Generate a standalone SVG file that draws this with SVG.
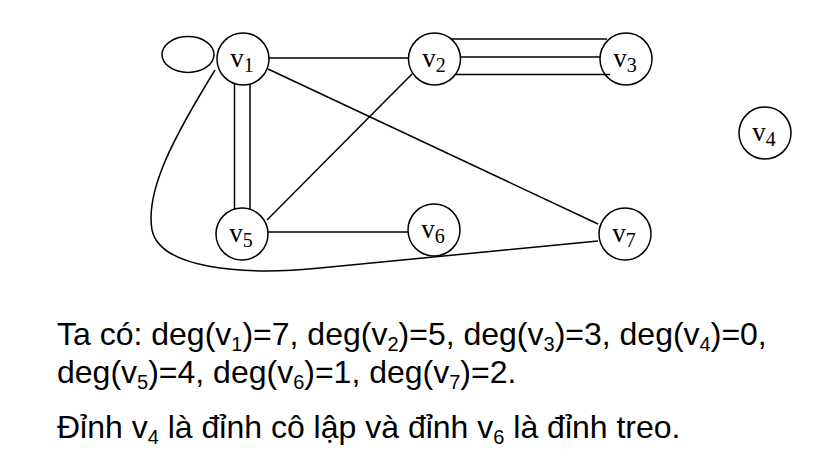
<svg xmlns="http://www.w3.org/2000/svg" width="835" height="471" viewBox="0 0 835 471">
<style>
.edge{fill:none;stroke:#000;stroke-width:1.5}
.node circle{fill:none;stroke:#000;stroke-width:1.5}
.node text{font-family:"Liberation Serif","Times New Roman",serif;font-size:27px;fill:#000;text-anchor:middle}
.sub{font-size:20px}
.body{font-family:"Liberation Sans",Arial,sans-serif;font-size:32px;fill:#000}
.bsub{font-size:20px}
</style>
<rect width="835" height="471" fill="#fff"/>
<g id="connectors">
<ellipse class="edge" cx="188" cy="54.5" rx="26" ry="18"/>
<line class="edge" x1="269" y1="58" x2="408" y2="58"/>
<line class="edge" x1="451" y1="39" x2="607" y2="39"/>
<line class="edge" x1="460" y1="57" x2="600" y2="57"/>
<line class="edge" x1="455" y1="74.5" x2="610" y2="74.5"/>
<line class="edge" x1="234.5" y1="84" x2="234.5" y2="209"/>
<line class="edge" x1="250" y1="84" x2="250" y2="209"/>
<line class="edge" x1="268" y1="69" x2="598" y2="224"/>
<line class="edge" x1="412" y1="74" x2="267" y2="220"/>
<line class="edge" x1="268" y1="232" x2="408" y2="232"/>
<path class="edge" d="M 215 70 C 175 135 145 190 152 230 C 160 268 240 276 320 268 L 598 241"/>
</g>
<g id="v1" class="node"><circle cx="243" cy="59" r="26"/><text x="242" y="67">v<tspan class="sub" dy="5">1</tspan></text></g>
<g id="v2" class="node"><circle cx="434.5" cy="59" r="26"/><text x="434" y="67">v<tspan class="sub" dy="5">2</tspan></text></g>
<g id="v3" class="node"><circle cx="626" cy="59" r="26"/><text x="625" y="67">v<tspan class="sub" dy="5">3</tspan></text></g>
<g id="v4" class="node"><circle cx="765" cy="133" r="26"/><text x="764" y="141">v<tspan class="sub" dy="5">4</tspan></text></g>
<g id="v5" class="node"><circle cx="242" cy="234" r="26"/><text x="241" y="242">v<tspan class="sub" dy="5">5</tspan></text></g>
<g id="v6" class="node"><circle cx="434" cy="230" r="26"/><text x="433" y="238">v<tspan class="sub" dy="5">6</tspan></text></g>
<g id="v7" class="node"><circle cx="625" cy="234" r="26"/><text x="624" y="242">v<tspan class="sub" dy="5">7</tspan></text></g>
<g id="text">
<text class="body" x="57" y="345">Ta có: deg(v<tspan class="bsub" dy="6">1</tspan><tspan dy="-6">)=7, deg(v</tspan><tspan class="bsub" dy="6">2</tspan><tspan dy="-6">)=5, deg(v</tspan><tspan class="bsub" dy="6">3</tspan><tspan dy="-6">)=3, deg(v</tspan><tspan class="bsub" dy="6">4</tspan><tspan dy="-6">)=0,</tspan></text>
<text class="body" x="57" y="383">deg(v<tspan class="bsub" dy="6">5</tspan><tspan dy="-6">)=4, deg(v</tspan><tspan class="bsub" dy="6">6</tspan><tspan dy="-6">)=1, deg(v</tspan><tspan class="bsub" dy="6">7</tspan><tspan dy="-6">)=2.</tspan></text>
<text class="body" x="57" y="438">Đỉnh v<tspan class="bsub" dy="6">4</tspan><tspan dy="-6"> là đỉnh cô lập và đỉnh v</tspan><tspan class="bsub" dy="6">6</tspan><tspan dy="-6"> là đỉnh treo.</tspan></text>
</g>
</svg>
